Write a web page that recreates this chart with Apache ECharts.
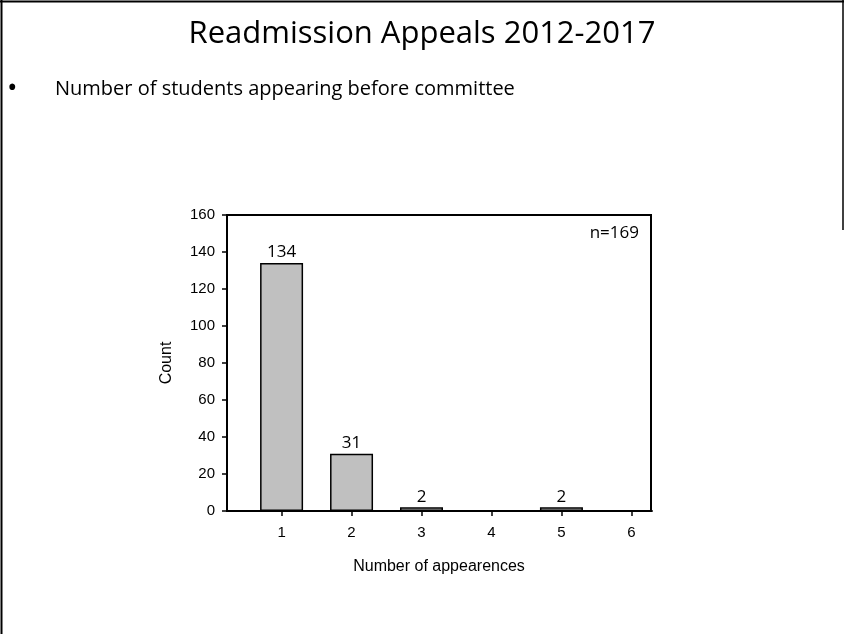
<!DOCTYPE html>
<html>
<head>
<meta charset="utf-8">
<script src="https://cdn.jsdelivr.net/npm/echarts@6/dist/echarts.min.js"></script>
<style>
  html, body { margin: 0; padding: 0; background: #fff; }
  #chart { width: 844px; height: 634px; }
</style>
</head>
<body>
<div id="chart"></div>
<script>
// data
const appearances = [1, 2, 3, 4, 5, 6]
const counts = [134, 31, 2, 0, 2, 0]
const yTicks = [0, 20, 40, 60, 80, 100, 120, 140, 160]
const sampleSize = 169

const myChart = echarts.init(document.getElementById('chart'))

// bars sit on a value x axis so the spacing matches the original plot
const barData = appearances.map((a, i) => [a, counts[i]])

const option = {
  animation: false,
  backgroundColor: '#fff',
  grid: {
    left: 227,
    top: 215,
    right: 193,
    bottom: 123,
    show: true,
    borderColor: '#000',
    borderWidth: 2,
    backgroundColor: 'transparent'
  },
  xAxis: {
    type: 'value',
    min: 0.22,
    max: 6.28,
    name: 'Number of appearences',
    nameLocation: 'middle',
    nameGap: 48,
    nameTextStyle: { fontFamily: 'Liberation Sans', fontSize: 16, color: '#000' },
    axisLine: { show: true, lineStyle: { color: '#000', width: 2 } },
    axisTick: { show: true, customValues: appearances, length: 5, lineStyle: { color: '#000', width: 1.5 } },
    axisLabel: { customValues: appearances, margin: 14, fontFamily: 'Liberation Sans', fontSize: 15, color: '#000' },
    splitLine: { show: false }
  },
  yAxis: {
    type: 'value',
    min: yTicks[0],
    max: yTicks[yTicks.length - 1],
    interval: 20,
    name: 'Count',
    nameLocation: 'middle',
    nameGap: 52,
    nameTextStyle: { fontFamily: 'Liberation Sans', fontSize: 16, color: '#000' },
    axisLine: { show: true, lineStyle: { color: '#000', width: 2 } },
    axisTick: { show: true, length: 5, lineStyle: { color: '#000', width: 1.5 } },
    axisLabel: { margin: 12, fontFamily: 'Liberation Sans', fontSize: 15, color: '#000' },
    splitLine: { show: false }
  },
  series: [{
    type: 'bar',
    data: barData,
    barWidth: 43,
    itemStyle: { color: '#c0c0c0', borderColor: '#000', borderWidth: 1.5 },
    label: {
      show: true,
      position: 'top',
      distance: 2,
      fontFamily: 'Open Sans',
      fontSize: 17,
      color: '#000',
      formatter: p => p.value[1] === 0 ? '' : p.value[1]
    }
  }],
  graphic: [
    // slide frame
    { type: 'line', shape: { x1: 0, y1: 1.5, x2: 844, y2: 1.5 }, style: { stroke: '#000', lineWidth: 2 } },
    { type: 'line', shape: { x1: 1.5, y1: 0, x2: 1.5, y2: 634 }, style: { stroke: '#000', lineWidth: 2 } },
    { type: 'line', shape: { x1: 843, y1: 0, x2: 843, y2: 230 }, style: { stroke: '#000', lineWidth: 1.5 } },
    // slide title and bullet
    {
      type: 'text', left: 'center', top: 19,
      style: { text: 'Readmission Appeals 2012-2017', font: '31px "Open Sans"', fill: '#000' }
    },
    {
      type: 'text', x: 7, y: 89,
      style: { text: '•', font: '28px "Open Sans"', fill: '#000', verticalAlign: 'middle' }
    },
    {
      type: 'text', x: 55, y: 89,
      style: { text: 'Number of students appearing before committee', font: '20px "Open Sans"', fill: '#000', verticalAlign: 'middle' }
    },
    // sample size note
    {
      type: 'text', x: 639, y: 233,
      style: { text: 'n=' + sampleSize, font: '17px "Open Sans"', fill: '#000', align: 'right', verticalAlign: 'middle' }
    }
  ]
}

myChart.setOption(option)
</script>
</body>
</html>
